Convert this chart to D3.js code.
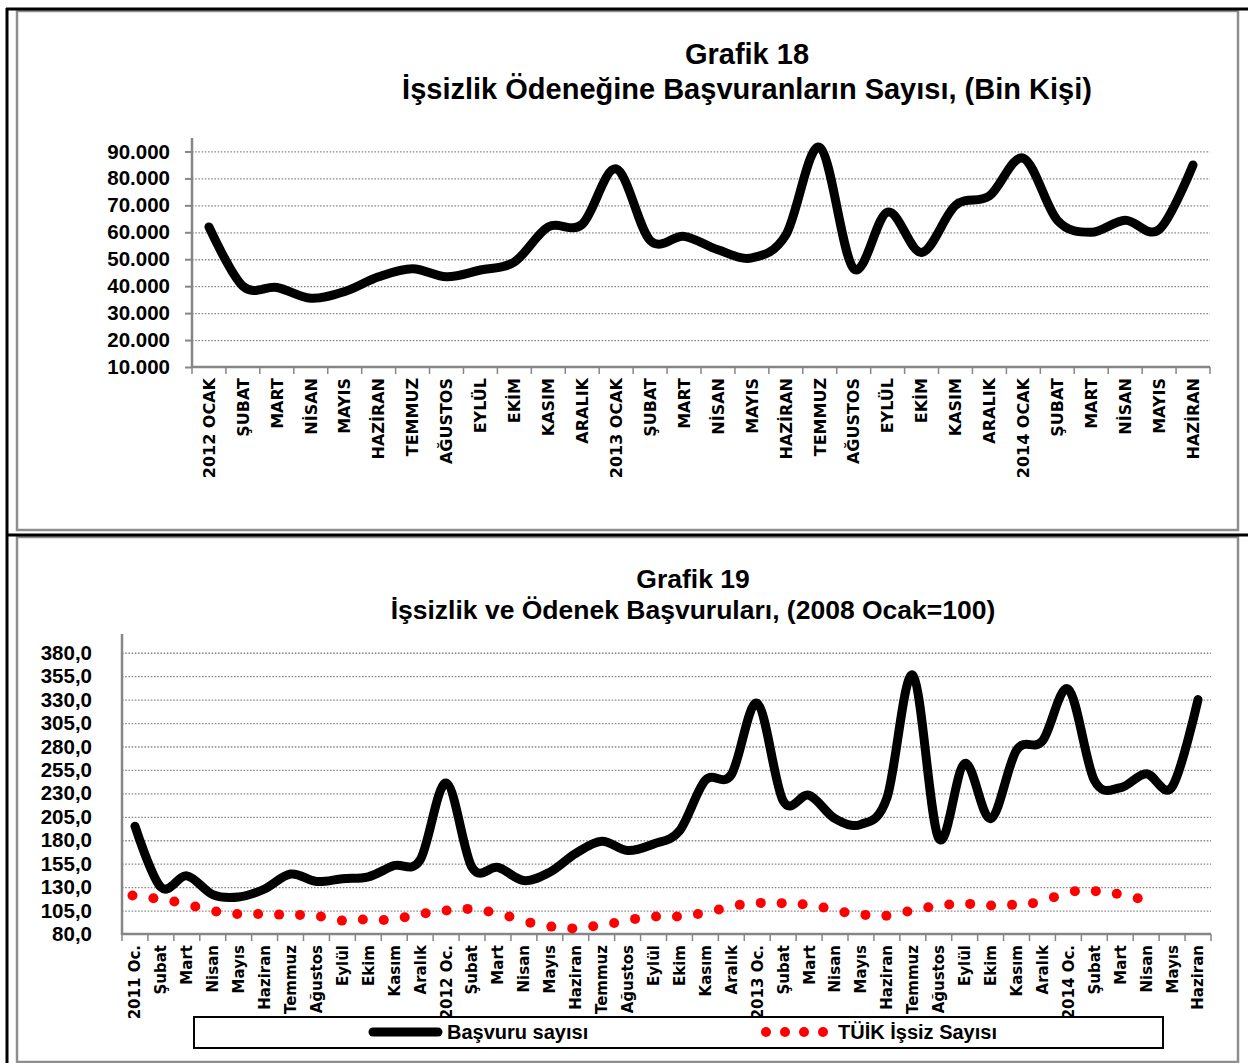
<!DOCTYPE html>
<html>
<head>
<meta charset="utf-8">
<script src="https://cdn.jsdelivr.net/npm/d3@7"></script>
<style>
  html, body { margin: 0; padding: 0; background: #fff; }
  svg { display: block; }
  .title { font-family: "Liberation Sans", Arial, sans-serif; font-weight: bold; fill: #000; }
  .ylab { font-family: "Liberation Sans", Arial, sans-serif; font-weight: bold; font-size: 20.5px; fill: #000; }
  .xlab { font-family: "DejaVu Sans", sans-serif; font-weight: bold; fill: #000; }
  .leg { font-family: "Liberation Sans", Arial, sans-serif; font-weight: bold; font-size: 20px; fill: #000; }
</style>
</head>
<body>
<svg id="chart" width="1248" height="1063"></svg>
<script>
// ---- data: Grafik 18 (thousand persons shown as 90.000 etc.)
const topMonths = ["2012 OCAK", "ŞUBAT", "MART", "NİSAN", "MAYIS", "HAZİRAN", "TEMMUZ", "AĞUSTOS", "EYLÜL", "EKİM", "KASIM", "ARALIK",
  "2013 OCAK", "ŞUBAT", "MART", "NİSAN", "MAYIS", "HAZİRAN", "TEMMUZ", "AĞUSTOS", "EYLÜL", "EKİM", "KASIM", "ARALIK",
  "2014 OCAK", "ŞUBAT", "MART", "NİSAN", "MAYIS", "HAZİRAN"];
const topValues = [62000, 40000, 39500, 35500, 38000, 43500, 46500, 43500, 46000, 49000, 62000, 63000,
  83500, 57000, 58500, 53500, 50500, 59000, 91500, 46500, 67500, 52500, 70000, 73500,
  87500, 64500, 60000, 64500, 61000, 85000];
const topTicks = [10000, 20000, 30000, 40000, 50000, 60000, 70000, 80000, 90000];

// ---- data: Grafik 19 (2008 Ocak = 100)
const botMonths = ["2011 Oc.", "Şubat", "Mart", "Nisan", "Mayıs", "Haziran", "Temmuz", "Ağustos", "Eylül", "Ekim", "Kasım", "Aralık",
  "2012 Oc.", "Şubat", "Mart", "Nisan", "Mayıs", "Haziran", "Temmuz", "Ağustos", "Eylül", "Ekim", "Kasım", "Aralık",
  "2013 Oc.", "Şubat", "Mart", "Nisan", "Mayıs", "Haziran", "Temmuz", "Ağustos", "Eylül", "Ekim", "Kasım", "Aralık",
  "2014 Oc.", "Şubat", "Mart", "Nisan", "Mayıs", "Haziran"];
const basvuru = [195, 130, 142, 122, 119.5, 128, 144, 136, 139, 141, 153, 159,
  241, 151, 151, 137, 146, 166, 179, 169, 176, 190, 244, 250,
  326, 222, 228, 203, 197, 225, 356, 182, 262, 203, 276, 286,
  341, 244, 236, 251, 237, 330];
// TÜİK series sits on its own (hidden) category axis with 52 slots
const tuikSlots = 52;
const tuik = [121, 118.2, 114.6, 109.3, 104, 101.4, 101.4, 100.7, 100.4, 98.6,
  94.3, 95.4, 95, 97.9, 102.1, 105, 106.8, 104, 98.6, 92.1,
  87.9, 86, 88.2, 91.8, 96.1, 98.6, 98.6, 101.4, 106.1, 111.1,
  113.2, 112.9, 111.8, 108.2, 103.2, 100.4, 99.6, 104, 108.6, 111.4,
  112.1, 110.4, 111.1, 112.9, 119.3, 125.7, 125.7, 122.9, 118.2];
const botTicks = [80, 105, 130, 155, 180, 205, 230, 255, 280, 305, 330, 355, 380];

const trLocale = d3.formatLocale({ decimal: ",", thousands: ".", grouping: [3], currency: ["", " TL"] });

const svg = d3.select("#chart");
const AXIS = "#868686";
const GRID = "#8a8a8a";

// ---- frames
svg.append("rect").attr("x", 17).attr("y", 11).attr("width", 1221).attr("height", 519)
  .attr("fill", "none").attr("stroke", "#8e8e8e").attr("stroke-width", 2.5);
svg.append("rect").attr("x", 17).attr("y", 537).attr("width", 1221).attr("height", 525)
  .attr("fill", "none").attr("stroke", "#8e8e8e").attr("stroke-width", 2.5);
svg.append("line").attr("x1", 6).attr("y1", 9).attr("x2", 1248).attr("y2", 9).attr("stroke", "#000").attr("stroke-width", 3);
svg.append("line").attr("x1", 7).attr("y1", 8).attr("x2", 7).attr("y2", 1063).attr("stroke", "#000").attr("stroke-width", 3);
svg.append("line").attr("x1", 6).attr("y1", 535).attr("x2", 1248).attr("y2", 535).attr("stroke", "#000").attr("stroke-width", 3);

function drawPanel(c) {
  const g = svg.append("g");
  const x = d3.scaleBand().domain(d3.range(c.months.length)).range([c.left, c.right]);
  const y = d3.scaleLinear().domain(c.yDomain).range([c.bottom, c.top]);
  const cx = i => x(i) + x.bandwidth() / 2;

  // titles
  c.titles.forEach((t, k) => {
    g.append("text").attr("class", "title").attr("x", c.titleX).attr("y", c.titleY[k])
      .attr("text-anchor", "middle").style("font-size", c.titleSize + "px").text(t);
  });

  // dotted gridlines
  g.selectAll(".grid").data(c.ticks.filter(v => v !== c.yDomain[0])).join("line")
    .attr("x1", c.left).attr("x2", c.right)
    .attr("y1", d => y(d) + 0.5).attr("y2", d => y(d) + 0.5)
    .attr("stroke", GRID).attr("stroke-width", 1.3).attr("stroke-dasharray", "1.6,1.6");

  // y axis
  const yAxis = d3.axisLeft(y).tickValues(c.ticks).tickSize(c.yTick).tickPadding(c.yPad)
    .tickFormat(c.fmt);
  const ya = g.append("g").attr("transform", `translate(${c.left},0)`).call(yAxis);
  ya.select(".domain").remove();
  ya.selectAll("line").attr("stroke", AXIS).attr("stroke-width", 2);
  ya.selectAll("text").attr("class", "ylab").attr("fill", null);
  g.append("line").attr("x1", c.left).attr("x2", c.left).attr("y1", c.top).attr("y2", c.bottom + 1)
    .attr("stroke", AXIS).attr("stroke-width", 2.5);

  // x axis with boundary ticks
  g.append("line").attr("x1", c.left).attr("x2", c.right).attr("y1", c.bottom).attr("y2", c.bottom)
    .attr("stroke", AXIS).attr("stroke-width", 2.5);
  g.selectAll(".xt").data(d3.range(c.months.length + 1)).join("line")
    .attr("x1", i => c.left + i * x.step()).attr("x2", i => c.left + i * x.step())
    .attr("y1", c.bottom).attr("y2", c.bottom + 7)
    .attr("stroke", AXIS).attr("stroke-width", 1.5);
  g.selectAll(".xl").data(c.months).join("text").attr("class", "xlab")
    .style("font-size", c.xFont + "px")
    .attr("transform", (d, i) => `translate(${cx(i)},${c.bottom + c.xGap}) rotate(-90)`)
    .attr("text-anchor", "end").attr("dy", "0.36em").text(d => d);

  // main smoothed line
  const line = d3.line().x((d, i) => cx(i)).y(d => y(d)).curve(d3.curveCatmullRom.alpha(0));
  g.append("path").datum(c.values).attr("d", line).attr("fill", "none")
    .attr("stroke", "#000").attr("stroke-width", 9)
    .attr("stroke-linecap", "round").attr("stroke-linejoin", "round");

  return { g, y };
}

// ---- Grafik 18
drawPanel({
  months: topMonths, values: topValues, ticks: topTicks,
  left: 192, right: 1210, top: 138, bottom: 367, yDomain: [10000, 95000],
  fmt: trLocale.format(",.0f"), yTick: 7, yPad: 15,
  xFont: 16, xGap: 11,
  titles: ["Grafik 18", "İşsizlik Ödeneğine Başvuranların Sayısı, (Bin Kişi)"],
  titleX: 747, titleY: [64, 99], titleSize: 29
});

// ---- Grafik 19
const bot = drawPanel({
  months: botMonths, values: basvuru, ticks: botTicks,
  left: 122, right: 1211, top: 634, bottom: 934, yDomain: [80, 400],
  fmt: trLocale.format(",.1f"), yTick: 0, yPad: 30,
  xFont: 15, xGap: 11,
  titles: ["Grafik 19", "İşsizlik ve Ödenek Başvuruları, (2008 Ocak=100)"],
  titleX: 693, titleY: [588, 619], titleSize: 26.5
});

const x2 = d3.scaleBand().domain(d3.range(tuikSlots)).range([122, 1211]);
bot.g.selectAll(".tuik").data(tuik).join("circle")
  .attr("cx", (d, i) => x2(i) + x2.bandwidth() / 2)
  .attr("cy", d => bot.y(d))
  .attr("r", 5).attr("fill", "#ff0000");

// ---- legend
const lg = svg.append("g");
lg.append("rect").attr("x", 194).attr("y", 1017).attr("width", 969).attr("height", 31)
  .attr("fill", "none").attr("stroke", "#000").attr("stroke-width", 2);
lg.append("line").attr("x1", 373).attr("x2", 438).attr("y1", 1032).attr("y2", 1032)
  .attr("stroke", "#000").attr("stroke-width", 9).attr("stroke-linecap", "round");
lg.append("text").attr("class", "leg").attr("x", 447).attr("y", 1039).text("Başvuru sayısı");
lg.selectAll(".ld").data([0, 1, 2, 3]).join("circle")
  .attr("cx", d => 766 + d * 19).attr("cy", 1032).attr("r", 5).attr("fill", "#ff0000");
lg.append("text").attr("class", "leg").attr("x", 838).attr("y", 1039).text("TÜİK İşsiz Sayısı");
</script>
</body>
</html>
